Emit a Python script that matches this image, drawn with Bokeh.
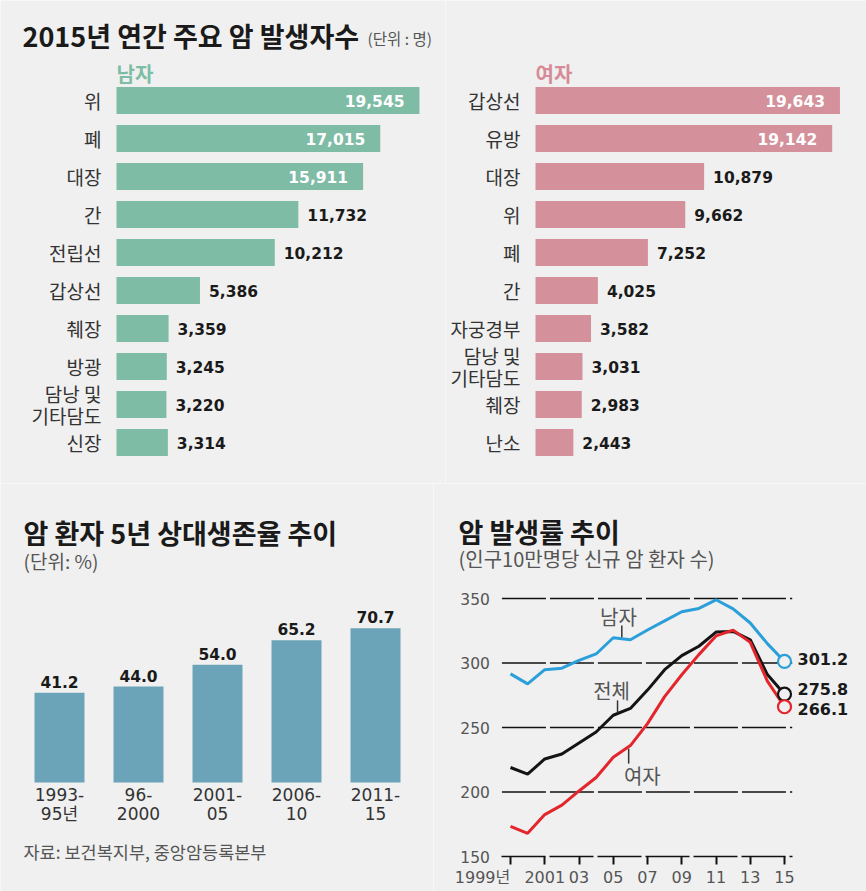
from bokeh.plotting import figure
from bokeh.models import ColumnDataSource, Range1d, Label, FixedTicker
from bokeh.layouts import column, row
from bokeh.embed import file_html
from bokeh.resources import INLINE
from bokeh.core.properties import value

BG = "#f0f0f0"
KR = "Noto Sans CJK KR"
NUM = "DejaVu Sans"
MIX = "DejaVu Sans, Noto Sans CJK KR"

# ---------------- data ----------------
men_sites = ["위", "폐", "대장", "간", "전립선", "갑상선", "췌장", "방광", "담낭 및\n기타담도", "신장"]
men_counts = [19545, 17015, 15911, 11732, 10212, 5386, 3359, 3245, 3220, 3314]
women_sites = ["갑상선", "유방", "대장", "위", "폐", "간", "자궁경부", "담낭 및\n기타담도", "췌장", "난소"]
women_counts = [19643, 19142, 10879, 9662, 7252, 4025, 3582, 3031, 2983, 2443]

surv_periods = ["1993-\n95년", "96-\n2000", "2001-\n05", "2006-\n10", "2011-\n15"]
surv_rates = [41.2, 44.0, 54.0, 65.2, 70.7]

years = list(range(1999, 2016))
male_rate = [291.6, 283.8, 294.8, 296.0, 302.0, 307.0, 319.6, 318.0, 325.6, 332.6,
             339.7, 342.3, 349.0, 342.0, 331.0, 315.0, 301.2]
total_rate = [219.0, 213.8, 225.6, 229.5, 238.0, 246.5, 259.5, 264.8, 279.0, 294.8,
              305.7, 313.0, 324.0, 324.5, 318.0, 291.0, 275.8]
female_rate = [173.4, 168.0, 182.5, 189.8, 200.8, 211.2, 226.9, 236.0, 253.0, 273.9,
               290.9, 306.5, 321.0, 325.5, 316.0, 286.0, 266.1]
year_ticks = [1999, 2001, 2003, 2005, 2007, 2009, 2011, 2013, 2015]
year_tick_labels = ["1999년", "2001", "03", "05", "07", "09", "11", "13", "15"]
rate_ticks = [150, 200, 250, 300, 350]

series_names = ["남자", "전체", "여자"]
series_colors = ["#2b9fd9", "#141414", "#e3262c"]
# annotation anchors for the series names (year, value) and their leader lines
name_x = [2005.3, 2004.9, 2006.7]
name_y = [336.0, 278.5, 213.0]
lead_x = [2005.5, 2005.25, 2005.9]
lead_y0 = [329.0, 271.0, 233.5]
lead_y1 = [320.0, 261.5, 222.0]


def base_fig(w, h, xr, yr):
    p = figure(width=w, height=h, x_range=xr, y_range=yr,
               output_backend="svg", toolbar_location=None, title=None,
               background_fill_color=BG, border_fill_color=BG,
               outline_line_color=None, min_border=0)
    p.xgrid.visible = False
    p.ygrid.visible = False
    return p


def plain_axis(ax, font, size, color, standoff):
    ax.axis_line_color = None
    ax.major_tick_line_color = None
    ax.minor_tick_line_color = None
    ax.major_label_text_font = font
    ax.major_label_text_font_size = size
    ax.major_label_text_color = color
    ax.major_label_standoff = standoff


def add_text(p, x, y, text, size, color="#1a1a1a", bold=False, font=KR):
    p.add_layout(Label(x=x, y=y, x_units="screen", y_units="screen", text=text,
                       text_font=font, text_font_style="bold" if bold else "normal",
                       text_font_size=size, text_color=color, text_baseline="middle"))


W = 433           # bottom panels' width
W_MEN = 445       # top-left panel width (room for the unit note)
W_WOMEN = 866 - W_MEN
H_TOP = 483       # top row height
H_BOT = 408       # bottom row height
PX_PER_CASE = 0.0155   # horizontal bar scale (px per person)
ROW = 38               # px per bar row


def sites_chart(width, sites, counts, bar_color, head, head_color, zero_px):
    top_row = 100
    idx = list(range(len(sites)))
    xr = Range1d(-zero_px / PX_PER_CASE, (width - zero_px) / PX_PER_CASE)
    yr = Range1d((H_TOP - top_row) / ROW, -top_row / ROW)
    p = base_fig(width, H_TOP, xr, yr)
    src = ColumnDataSource(dict(i=idx, count=counts))
    p.hbar(y="i", right="count", left=0, height=0.71, source=src,
           fill_color=bar_color, line_color=None)
    ins = [k for k, c in enumerate(counts) if c >= 15000]
    outs = [k for k, c in enumerate(counts) if c < 15000]
    src_in = ColumnDataSource(dict(i=ins, count=[counts[k] for k in ins],
                                   label=[f"{counts[k]:,}" for k in ins]))
    src_out = ColumnDataSource(dict(i=outs, count=[counts[k] for k in outs],
                                    label=[f"{counts[k]:,}" for k in outs]))
    p.text(x="count", y="i", text="label", source=src_in, x_offset=-15,
           text_align="right", text_baseline="middle", text_color="white",
           text_font=value(NUM), text_font_style="bold", text_font_size="15.5px")
    p.text(x="count", y="i", text="label", source=src_out, x_offset=9,
           text_align="left", text_baseline="middle", text_color="#1a1a1a",
           text_font=value(NUM), text_font_style="bold", text_font_size="15.5px")
    p.xaxis.visible = False
    ax = p.yaxis[0]
    ax.fixed_location = 0
    ax.ticker = FixedTicker(ticks=idx)
    ax.major_label_overrides = {k: s for k, s in zip(idx, sites)}
    plain_axis(ax, KR, "19px", "#333333", 9)
    ax.major_label_text_line_height = 0.8
    p.add_layout(Label(x=0, y=-0.71, text=head, text_font=KR, text_font_style="bold",
                       text_font_size="20px", text_color=head_color,
                       text_baseline="middle", x_offset=0))
    return p


p1 = sites_chart(W_MEN, men_sites, men_counts, "#7fbca6", "남자", "#7dbda5", 116)
p2 = sites_chart(W_WOMEN, women_sites, women_counts, "#d4919b", "여자", "#d68b97", 535 - W_MEN)
add_text(p1, 22, H_TOP - 35, "2015년 연간 주요 암 발생자수", "27px", bold=True)
add_text(p1, 367, H_TOP - 37, "(단위 : 명)", "15.5px", color="#555555")

# ---------------- survival bars ----------------
S_PX = 2.18     # px per percentage point
S_STEP = 79     # px per bar slot
S_X0 = 59       # first bar centre
S_BASE = 299    # baseline px from panel top
idx3 = list(range(len(surv_periods)))
p3 = base_fig(W, H_BOT, Range1d(-S_X0 / S_STEP, (W - S_X0) / S_STEP),
              Range1d(-(H_BOT - S_BASE) / S_PX, S_BASE / S_PX))
src3 = ColumnDataSource(dict(i=idx3, rate=surv_rates,
                             label=[f"{r:.1f}" for r in surv_rates]))
p3.vbar(x="i", top="rate", bottom=0, width=50 / S_STEP, source=src3,
        fill_color="#6ba3b9", line_color=None)
p3.text(x="i", y="rate", text="label", source=src3, y_offset=-5,
        text_align="center", text_baseline="bottom", text_color="#1a1a1a",
        text_font=value(NUM), text_font_style="bold", text_font_size="15.5px")
p3.yaxis.visible = False
ax = p3.xaxis[0]
ax.fixed_location = 0
ax.ticker = FixedTicker(ticks=idx3)
ax.major_label_overrides = {k: s for k, s in zip(idx3, surv_periods)}
plain_axis(ax, MIX, "17px", "#333333", -4)
ax.major_label_text_line_height = 0.95
add_text(p3, 23, H_BOT - 49, "암 환자 5년 상대생존율 추이", "27px", bold=True)
add_text(p3, 23, H_BOT - 77, "(단위: %)", "19px", color="#555555")
add_text(p3, 23, H_BOT - 368, "자료: 보건복지부, 중앙암등록본부", "17.5px", color="#555555")

# ---------------- incidence lines ----------------
YR_PX = 17.125   # px per year
R_PX = 1.29      # px per rate unit
X1999 = 77       # px of 1999 from panel left
Y350 = 115       # px of 350 from panel top
x0 = years[0] - X1999 / YR_PX
p4 = base_fig(W, H_BOT, Range1d(x0, x0 + W / YR_PX),
              Range1d(350 - (H_BOT - Y350) / R_PX, 350 + Y350 / R_PX))
gx0, gx1 = years[0] - 0.5, years[-1] + 0.45
grid_levels = rate_ticks[1:]
p4.segment(x0=[gx0] * len(grid_levels), y0=grid_levels, x1=[gx1] * len(grid_levels),
           y1=grid_levels, line_color="#111111", line_width=1.5, line_dash="44 4")

for vals, col in zip([male_rate, total_rate, female_rate], series_colors):
    p4.line(years, vals, line_color=col, line_width=3)
ends = [male_rate[-1], total_rate[-1], female_rate[-1]]
end_src = ColumnDataSource(dict(x=[years[-1]] * 3, y=ends, color=series_colors,
                                label=[f"{v:.1f}" for v in ends], dy=[-2, -5, 2]))
p4.scatter(x="x", y="y", source=end_src, size=13, fill_color=BG,
           line_color="color", line_width=2.2)
p4.text(x="x", y="y", text="label", source=end_src, x_offset=13, y_offset="dy",
        text_font=value(NUM), text_font_style="bold", text_font_size="16px",
        text_color="#1a1a1a", text_baseline="middle")

name_src = ColumnDataSource(dict(x=name_x, y=name_y, text=series_names))
p4.text(x="x", y="y", text="text", source=name_src, text_align="center",
        text_baseline="middle", text_font=value(KR), text_font_size="20px",
        text_color="#555555")
p4.segment(x0=lead_x, y0=lead_y0, x1=lead_x, y1=lead_y1, line_color="#333333", line_width=1.5)

xa = p4.xaxis[0]
xa.fixed_location = rate_ticks[0]
xa.bounds = (gx0, gx1)
xa.ticker = FixedTicker(ticks=year_ticks)
xa.major_label_overrides = {t: (l + "\u00a0" * 11 if k == 0 else l)
                            for k, (t, l) in enumerate(zip(year_ticks, year_tick_labels))}
plain_axis(xa, MIX, "16px", "#555555", 3)
xa.axis_line_color = "#111111"
xa.axis_line_width = 1.5
xa.axis_line_dash = "44 4"
xa.major_tick_out = 8
xa.major_tick_in = 0
xa.major_tick_line_width = 2
xa.major_tick_line_color = "#111111"
ya = p4.yaxis[0]
ya.fixed_location = gx0
ya.ticker = FixedTicker(ticks=rate_ticks)
plain_axis(ya, NUM, "15.5px", "#555555", 6)
add_text(p4, 458 - W, H_BOT - 48, "암 발생률 추이", "27px", bold=True)
add_text(p4, 458 - W, H_BOT - 75, "(인구10만명당 신규 암 환자 수)", "20px", color="#555555")

layout = column(row(p1, p2), row(p3, p4))
html = file_html(layout, INLINE)
html = html.replace("<body>", '<body style="background:#f0f0f0;">', 1)
open("out.html", "w").write(html)
